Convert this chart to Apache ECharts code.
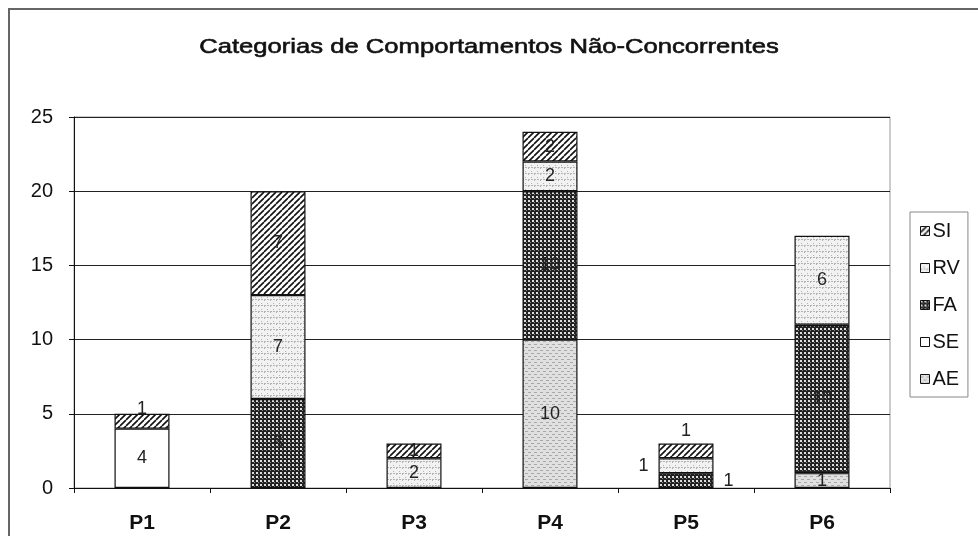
<!DOCTYPE html>
<html><head><meta charset="utf-8">
<script src="https://cdn.jsdelivr.net/npm/echarts@6/dist/echarts.min.js"></script>
<style>html,body{margin:0;padding:0;background:#fff}#c{width:978px;height:536px}</style>
</head><body><div id="c"></div>
<script>
const categories = ['P1','P2','P3','P4','P5','P6'];
const seriesNames = ['AE','SE','FA','RV','SI'];
const AE = [0,0,0,10,0,1];
const SE = [4,0,0,0,0,0];
const FA = [0,6,0,10,1,10];
const RV = [0,7,2,2,1,6];
const SI = [1,7,1,2,1,0];
const yTicks = {min:0, max:25, interval:5};
const titleText = 'Categorias de Comportamentos Não-Concorrentes';

function pat(size, draw){
  const c = document.createElement('canvas'); c.width = c.height = size;
  const x = c.getContext('2d'); draw(x); return {image:c, repeat:'repeat'};
}
const patterns = {
  SI: pat(6, x=>{ x.fillStyle='#fff'; x.fillRect(0,0,6,6); x.strokeStyle='#111'; x.lineWidth=1.6;
        x.beginPath(); for(let k=-6;k<=12;k+=6){ x.moveTo(k,6); x.lineTo(k+6,0);} x.stroke(); }),
  RV: pat(6, x=>{ x.fillStyle='#f2f2f2'; x.fillRect(0,0,6,6); x.fillStyle='#b4b4b4';
        x.fillRect(0,0,1,1); x.fillRect(3,3,1,1); x.fillRect(0,5,2,1); x.fillRect(3,5,2,1); }),
  FA: pat(4, x=>{ x.fillStyle='#222'; x.fillRect(0,0,4,4); x.fillStyle='#ddd';
        x.fillRect(0,0,2,2); x.fillStyle='#888'; x.fillRect(2,2,1,1); }),
  SE: '#ffffff',
  AE: pat(6, x=>{ x.fillStyle='#e0e0e0'; x.fillRect(0,0,6,6); x.fillStyle='#a8a8a8';
        x.fillRect(0,2,3,1); x.fillRect(3,5,3,1); })
};
const valuesBy = {AE, SE, FA, RV, SI};
const labelOverride = { 'FA|4':{position:'right', distance:10}, 'RV|4':{position:'left', distance:10}, 'SI|4':{position:'top', distance:3}, 'SI|0':{position:'top', distance:-4} };
const FONT = 'Liberation Sans, Arial, sans-serif';

const series = seriesNames.map(n => ({
  name:n, type:'bar', stack:'s', barWidth:55,
  itemStyle:{color:patterns[n], borderColor:'#111', borderWidth:1.2},
  label:{show:true, position:'inside', color:'#222', fontSize:18, fontFamily:FONT},
  data: valuesBy[n].map((v,i)=>{
    if(!v) return '-';
    const o = labelOverride[n+'|'+i];
    return o ? {value:v, label:o} : v;
  })
}));

const chart = echarts.init(document.getElementById('c'), null, {renderer:'canvas'});
chart.setOption({
  animation:false,
  backgroundColor:'#fff',
  graphic:[
    {type:'rect', shape:{x:9, y:9, width:1000, height:600}, style:{fill:'none', stroke:'#666', lineWidth:2}, silent:true, z:100},
    {type:'text', x:489, y:47, scaleX:1.22, style:{text:titleText, font:'21px ' + FONT, fill:'#111', stroke:'#111', lineWidth:0.6, textAlign:'center', textVerticalAlign:'middle'}, silent:true}
  ],
  legend:{orient:'vertical', left:910, top:212, data:['SI','RV','FA','SE','AE'], icon:'rect',
    backgroundColor:'#fff', borderColor:'#888', borderWidth:1, padding:[9,8,8,10],
    itemWidth:9, itemHeight:9, itemGap:17,
    itemStyle:{borderColor:'#111', borderWidth:1},
    textStyle:{fontSize:20, color:'#111', fontFamily:FONT, padding:[0,0,0,-2]}},
  grid:{left:74, top:117, right:88, bottom:48, show:true, borderColor:'#999', borderWidth:1},
  xAxis:{type:'category', data:categories,
    axisLine:{lineStyle:{color:'#111', width:1}},
    axisTick:{show:true, length:5, lineStyle:{color:'#111'}},
    axisLabel:{fontSize:21, fontWeight:'bold', color:'#111', margin:25, fontFamily:FONT}},
  yAxis:{type:'value', min:yTicks.min, max:yTicks.max, interval:yTicks.interval,
    axisLine:{show:true, lineStyle:{color:'#111', width:1}},
    axisTick:{show:true, length:5, lineStyle:{color:'#111'}},
    splitLine:{lineStyle:{color:'#222', width:1}},
    axisLabel:{fontSize:20, color:'#111', margin:21, fontFamily:FONT}},
  series
});
</script></body></html>
